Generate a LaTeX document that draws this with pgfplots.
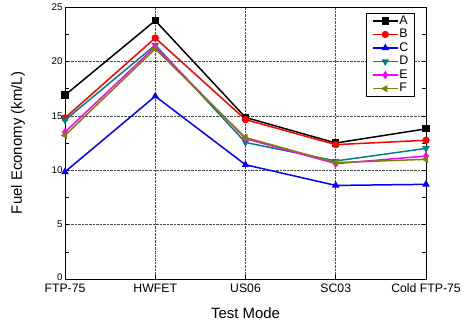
\documentclass[border=0pt]{standalone}
\usepackage{pgfplots}
\pgfplotsset{compat=1.18}
\usepackage{fontspec}
\setmainfont{Liberation Sans}
\definecolor{cA}{RGB}{0,0,0}
\definecolor{cB}{RGB}{255,0,0}
\definecolor{cC}{RGB}{0,0,255}
\definecolor{cD}{RGB}{0,128,128}
\definecolor{cE}{RGB}{255,0,255}
\definecolor{cF}{RGB}{128,128,0}
\begin{document}
\begin{tikzpicture}
\begin{axis}[
  name=ax,
  scale only axis,
  width=361bp, height=272bp,
  xmin=0, xmax=4, ymin=0, ymax=25,
  xtick={0,1,2,3,4},
  xticklabels={FTP-75,HWFET,US06,SC03,Cold FTP-75},
  ytick={0,5,10,15,20,25},
  yticklabels={\raisebox{3bp}{0},5,10,15,20,25},
  minor y tick num=1,
  tick align=inside,
  major tick length=4bp, minor tick length=4bp,
  xtick pos=bottom,
  ytick pos=both,
  xmajorgrids, ymajorgrids,
  grid style={densely dotted, black!70, line width=0.6pt},
  axis line style={line width=0.9pt},
  tick style={black, line width=0.6pt},
  xticklabel style={font=\fontsize{12.3}{13}\selectfont, yshift=-1.5bp},
  yticklabel style={font=\fontsize{9.8}{11}\selectfont, xshift=1bp},
  /pgf/number format/assume math mode=true,
  xlabel={Test Mode},
  ylabel={Fuel Economy (km/L)},
  every axis x label/.style={at={(axis description cs:0.5,-0.125)}, anchor=center, font=\fontsize{15}{16}\selectfont},
  every axis y label/.style={at={(axis description cs:-0.13,0.5)}, anchor=center, rotate=90, font=\fontsize{15}{16}\selectfont},
  every axis plot/.append style={line width=1.5pt, mark size=2.9pt},
  legend style={at={(0.9695,0.978)}, anchor=north east, draw=black, line width=0.8pt,
    font=\fontsize{12.5}{13}\selectfont, row sep=2.5pt, inner xsep=5.5pt, inner ysep=2pt,
    nodes={inner sep=0.8pt, text height=8pt, text depth=1.5pt},
    cells={anchor=west}},
  legend image code/.code={\draw[mark repeat=2,mark phase=2] plot coordinates {(0cm,0cm) (0.44cm,0cm) (0.88cm,0cm)};},
  legend cell align=left,
]
\addplot[color=cA, mark=square*] coordinates {(0,16.9) (1,23.75) (2,14.85) (3,12.5) (4,13.8)};
\addlegendentry{A}
\addplot[color=cB, mark=*] coordinates {(0,14.8) (1,22.15) (2,14.65) (3,12.35) (4,12.75)};
\addlegendentry{B}
\addplot[color=cC, mark=triangle*] coordinates {(0,9.85) (1,16.8) (2,10.5) (3,8.6) (4,8.7)};
\addlegendentry{C}
\addplot[color=cD, mark=triangle*, mark options={rotate=180}] coordinates {(0,14.6) (1,21.5) (2,12.55) (3,10.85) (4,12.0)};
\addlegendentry{D}
\addplot[color=cE, mark=diamond*] coordinates {(0,13.5) (1,21.35) (2,12.9) (3,10.6) (4,11.3)};
\addlegendentry{E}
\addplot[color=cF, mark=triangle*, mark options={rotate=90}] coordinates {(0,13.2) (1,21.15) (2,13.0) (3,10.7) (4,11.0)};
\addlegendentry{F}
\end{axis}
\pgfresetboundingbox
\useasboundingbox ([xshift=-65bp,yshift=-46bp]ax.south west) rectangle ([xshift=41bp,yshift=7bp]ax.north east);
\end{tikzpicture}
\end{document}
